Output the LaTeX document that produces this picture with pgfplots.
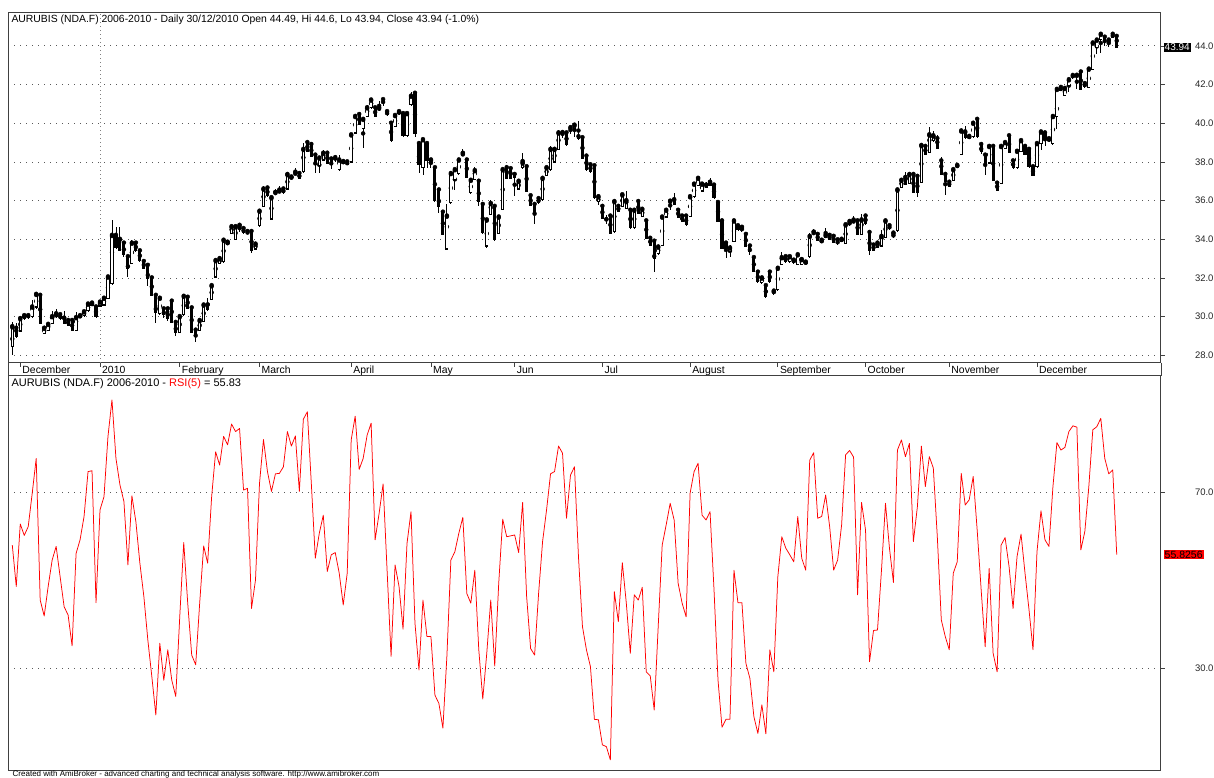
\documentclass[border=0pt]{standalone}
\usepackage{pgfplots}
\pgfplotsset{compat=1.18}
\usepackage{pgfplotstable}
\usepackage{fontspec}
\setmainfont{Liberation Sans}
\newcommand\cf{\fontsize{9.5}{11}\selectfont}
\newcommand\mf{\fontsize{10.4}{12}\selectfont}

\pgfplotstableread{
t b h l w
29.48 28.45 29.7 28.0 1
29.4 28.97 29.65 28.9 0
29.9 29.26 30.0 29.2 1
30.05 29.9 30.15 29.85 1
30.05 29.95 30.15 29.9 0
30.5 30.0 30.85 29.95 1
31.15 30.5 31.2 30.4 1
31.1 29.65 31.15 29.6 0
29.4 29.15 29.45 29.1 1
29.6 29.3 29.7 29.25 1
30.0 29.65 30.3 29.6 1
30.1 30.0 30.4 29.95 1
30.1 29.9 30.15 29.85 0
29.9 29.65 30.3 29.6 0
29.8 29.55 29.9 29.5 0
29.8 29.3 29.85 29.25 0
29.95 29.3 30.25 29.25 1
30.05 30.0 30.1 29.95 1
30.25 30.05 30.3 30.0 1
30.65 30.3 30.7 30.25 1
30.7 30.6 30.75 30.55 1
30.5 30.0 30.55 29.95 0
30.75 30.55 30.85 30.5 1
30.95 30.6 31.0 30.55 1
32.05 30.95 32.1 30.9 1
34.2 31.7 35.0 31.65 1
34.2 33.6 34.65 33.5 0
33.95 33.45 34.65 33.4 0
33.8 33.2 33.85 33.1 0
33.1 32.5 33.15 32.05 0
33.8 32.75 33.95 32.7 1
33.8 33.4 33.85 33.35 0
33.4 32.9 33.45 32.85 0
32.85 32.5 32.9 32.45 0
32.65 32.0 32.7 31.6 0
32.0 31.1 32.05 31.05 0
31.1 30.2 31.15 29.65 0
30.95 30.15 31.0 30.1 1
30.4 30.1 30.45 29.95 0
30.4 29.9 30.45 29.75 0
30.8 29.7 30.85 29.65 0
29.7 29.2 29.75 29.0 0
30.0 29.2 30.05 29.15 1
31.05 30.1 31.1 30.05 1
31.0 30.45 31.05 30.4 0
30.45 29.2 30.5 29.15 0
29.3 29.05 29.35 28.7 0
29.8 29.3 29.85 29.25 1
30.6 29.75 30.65 29.7 1
30.6 30.35 30.95 30.3 0
31.6 30.9 31.65 30.85 1
32.9 32.05 32.95 32.0 1
33.0 32.75 33.05 32.7 1
33.95 32.85 34.0 32.8 1
33.85 33.75 33.9 33.7 1
34.65 34.3 34.75 34.25 1
34.65 34.0 34.7 33.95 1
34.72 34.68 34.75 34.4 1
34.55 34.35 34.6 34.3 0
34.4 34.3 34.45 34.25 0
34.4 33.45 34.45 33.3 0
33.75 33.5 33.8 33.45 1
35.45 34.7 35.5 34.65 1
36.6 35.7 36.75 35.65 1
36.65 36.25 36.7 36.2 0
36.15 35.05 36.2 35.0 1
36.42 36.35 36.6 36.3 1
36.5 36.45 36.75 36.4 1
36.6 36.4 36.65 36.35 0
37.35 36.6 37.4 36.55 1
37.22 37.15 37.3 37.1 1
37.42 37.35 37.7 37.3 1
37.4 37.15 37.45 37.1 0
38.65 37.5 39.0 37.45 1
39.0 38.55 39.05 38.5 0
38.9 38.3 38.95 38.25 0
38.35 37.9 38.4 37.45 0
38.2 37.8 38.25 37.45 1
38.45 38.1 38.6 38.05 1
38.45 37.95 38.5 37.9 0
38.15 37.85 38.2 37.65 0
38.22 38.18 38.35 38.0 1
38.1 37.6 38.35 37.55 1
38.02 37.95 38.1 37.9 1
38.0 37.87 38.05 37.82 0
39.4 38.0 39.45 37.95 1
40.35 39.5 40.4 39.45 1
40.45 39.95 40.5 39.9 0
40.2 39.75 40.25 38.7 1
40.8 40.35 40.95 40.3 1
41.2 40.8 41.3 40.75 1
40.8 40.35 40.85 40.3 0
40.78 40.7 41.15 40.65 1
41.22 41.18 41.3 40.9 0
40.6 40.45 40.65 40.4 0
40.0 39.1 40.05 39.05 0
40.4 39.85 40.45 39.8 1
40.6 40.5 40.65 40.45 1
40.5 39.35 40.55 39.3 0
40.5 39.35 40.55 39.3 1
41.4 40.95 41.6 40.9 1
41.55 39.5 41.6 39.3 0
38.95 37.85 39.1 37.45 0
39.15 37.7 39.2 37.3 1
38.95 38.1 39.0 37.7 0
38.1 37.95 38.2 37.7 1
37.7 36.0 37.75 35.95 0
36.55 35.7 36.6 35.35 0
35.4 34.25 35.45 34.2 0
35.2 33.5 35.85 33.45 1
37.4 35.9 37.45 35.85 1
37.6 37.1 37.65 36.55 1
38.1 37.4 38.15 37.35 1
38.42 38.35 38.65 38.3 1
38.1 37.2 38.15 37.15 0
37.05 36.4 37.1 36.35 1
37.55 37.1 37.75 37.05 1
37.0 35.95 37.05 35.7 0
35.8 34.35 35.85 34.3 0
35.0 33.65 35.05 33.55 1
35.85 35.3 36.05 35.25 1
35.7 34.0 35.75 33.9 0
35.15 34.3 35.2 34.25 1
37.6 35.55 37.65 35.5 1
37.7 37.15 37.85 37.1 0
37.65 37.15 37.7 37.1 0
37.35 37.2 37.4 36.25 0
37.0 36.6 37.05 36.55 1
37.95 37.7 38.45 37.65 1
37.75 36.5 37.8 36.45 0
36.25 35.75 36.3 35.7 0
35.8 35.3 35.85 34.8 0
36.1 35.9 36.15 35.85 0
37.15 36.05 37.2 36.0 1
37.7 37.3 37.75 37.25 1
38.65 37.6 38.8 37.55 1
38.65 38.0 38.7 37.95 1
39.5 38.65 39.65 38.6 1
39.52 39.48 39.65 39.25 1
39.5 38.9 39.55 38.85 0
39.77 39.73 39.85 39.45 1
39.9 39.75 40.0 39.3 1
39.3 39.2 40.1 39.15 0
39.25 38.2 39.3 38.15 0
38.3 37.6 38.35 37.55 0
37.85 37.5 37.9 37.45 0
37.8 36.15 37.85 36.1 0
36.2 35.95 36.3 35.8 1
35.7 35.1 35.75 35.05 0
35.02 34.98 35.25 34.8 0
35.2 34.3 35.25 34.25 0
35.95 34.4 36.0 34.35 1
35.7 35.45 35.75 35.4 0
36.3 35.7 36.35 35.65 1
35.95 35.6 36.5 35.55 1
35.5 34.6 35.55 34.55 0
35.5 34.6 35.55 34.55 1
35.95 35.35 36.0 35.3 0
35.55 35.2 35.6 35.15 1
34.95 34.05 35.0 34.0 0
34.05 33.7 34.1 33.65 0
33.9 33.0 33.95 32.3 0
33.6 33.25 33.65 33.2 1
35.15 33.7 35.2 33.65 1
35.5 35.15 35.55 35.1 1
35.97 35.93 36.0 35.5 1
36.0 35.8 36.4 35.75 0
35.5 35.15 35.55 35.1 0
35.2 34.95 35.25 34.9 0
35.2 34.75 35.25 34.7 0
36.2 35.2 36.25 35.15 1
36.85 36.2 36.9 36.15 1
37.15 36.8 37.2 36.75 1
36.85 36.5 36.9 36.45 1
36.8 36.7 36.95 36.65 0
36.95 36.8 37.15 36.75 0
36.8 36.15 36.85 36.1 0
35.9 34.95 35.95 34.9 0
34.95 33.55 35.0 33.5 0
33.8 33.55 33.85 33.05 0
33.55 33.35 33.7 33.1 1
34.95 33.9 35.0 33.85 1
34.7 34.5 34.75 34.45 0
34.62 34.58 34.65 34.4 1
34.25 33.65 34.3 33.6 0
33.65 33.35 33.7 33.2 0
33.05 32.35 33.1 32.3 0
32.3 31.8 32.35 31.75 0
32.0 31.75 32.05 31.7 1
31.6 31.05 31.65 30.95 0
32.3 31.8 32.35 31.75 0
31.32 31.28 31.45 31.1 1
32.5 31.4 32.55 31.35 1
33.05 32.7 33.35 32.65 1
33.1 32.85 33.15 32.8 0
33.1 32.85 33.15 32.8 1
32.92 32.88 33.05 32.7 1
33.2 32.7 33.25 32.65 1
32.95 32.7 33.0 32.65 1
32.82 32.78 32.9 32.7 1
34.15 33.1 34.35 33.05 1
34.35 34.3 34.55 34.25 1
34.25 33.95 34.3 33.9 0
33.95 33.85 34.0 33.8 1
34.2 34.1 34.6 34.05 1
34.2 34.0 34.25 33.95 0
34.15 33.85 34.2 33.8 0
33.97 33.9 34.0 33.7 0
34.0 33.9 34.1 33.85 1
34.75 33.8 34.8 33.75 1
34.92 34.75 34.95 34.7 1
34.95 34.88 35.2 34.85 1
34.95 34.25 35.0 34.2 0
35.0 34.25 35.3 34.2 1
35.2 34.8 35.25 34.75 0
34.35 33.45 34.4 33.2 0
33.7 33.45 33.75 33.4 0
33.8 33.6 33.85 33.55 1
34.15 33.65 34.5 33.6 1
34.95 34.1 35.0 34.05 1
34.7 34.55 34.75 34.5 0
34.32 34.28 34.35 34.05 1
36.55 34.45 36.6 34.4 1
37.05 36.7 37.1 36.65 1
37.2 36.85 37.5 36.8 0
37.35 36.9 37.4 36.85 1
37.35 36.45 37.4 36.4 0
37.25 36.45 37.3 36.2 0
38.85 36.95 38.9 36.9 1
38.8 38.4 38.85 38.35 0
39.4 38.5 39.8 38.45 1
39.35 39.1 39.6 39.05 1
39.2 38.7 39.4 38.65 0
38.05 37.35 38.25 37.3 0
37.35 37.0 37.4 36.3 0
36.95 36.75 37.0 36.7 0
37.6 37.05 37.65 37.0 1
37.82 37.75 37.9 37.7 1
39.6 38.4 39.65 38.35 1
39.55 39.25 39.85 39.2 0
39.32 39.28 39.4 39.2 1
40.0 39.3 40.05 39.25 1
40.2 39.3 40.25 39.25 0
38.9 38.55 38.95 38.4 0
38.35 37.85 38.4 37.3 0
38.8 37.95 38.85 37.9 1
38.8 37.05 38.85 37.0 0
36.9 36.55 36.95 36.5 0
38.8 36.9 38.85 36.85 1
39.0 38.7 39.05 38.65 1
39.35 38.5 39.4 38.45 0
38.05 37.7 38.1 37.65 0
38.55 37.7 38.6 37.65 1
39.1 38.55 39.15 38.5 1
38.8 38.4 38.85 38.35 0
38.65 37.75 38.7 37.7 0
37.75 37.3 37.8 37.25 0
38.95 37.75 39.0 37.7 1
39.55 38.95 39.65 38.6 1
39.5 39.15 39.55 38.8 0
39.2 39.1 39.25 39.05 1
40.35 38.95 40.45 38.9 1
41.75 40.35 41.8 39.7 1
41.85 41.7 41.9 41.65 0
41.8 41.45 41.85 41.4 1
42.25 41.95 42.3 41.6 1
42.47 42.43 42.6 42.3 1
42.48 42.42 42.55 41.75 1
42.65 41.75 42.7 41.7 0
42.05 41.9 42.1 41.85 0
42.8 41.85 42.85 41.8 1
44.15 42.8 44.2 42.75 1
44.3 43.9 44.35 43.6 1
44.6 44.35 44.65 43.65 1
44.45 44.35 44.5 44.0 0
44.3 44.15 44.35 43.95 1
44.6 44.45 44.65 44.4 0
44.49 43.94 44.6 43.94 0
}\candles

\pgfplotstableread{
r
58.0
48.6
62.8
60.2
62.2
69.8
77.7
45.5
41.9
48.6
54.6
57.7
50.8
44.0
42.1
35.1
56.1
59.2
64.5
74.7
74.9
44.9
66.0
69.0
82.7
91.0
77.7
71.7
67.9
53.5
69.2
63.3
53.9
46.3
36.4
28.1
19.4
35.7
27.3
34.2
27.3
23.6
41.7
58.6
44.8
33.0
30.8
44.8
57.8
53.9
69.0
79.2
76.2
82.7
80.8
85.5
83.8
84.5
70.5
70.9
43.6
50.1
72.0
82.0
74.7
70.2
74.2
74.3
75.8
83.8
80.5
82.8
70.2
86.6
88.3
72.0
55.0
60.7
64.8
52.0
55.8
56.3
51.6
44.4
51.6
81.9
87.3
75.2
77.7
83.0
85.7
59.2
65.2
71.9
52.3
32.7
53.5
48.6
38.9
58.4
65.6
40.2
29.6
45.5
37.2
37.2
23.9
22.0
16.4
32.7
54.6
56.5
60.7
64.3
47.0
44.8
52.3
34.2
23.0
33.4
45.5
30.5
49.3
63.9
59.9
60.1
60.3
56.3
67.7
46.3
34.5
33.0
47.0
58.8
66.0
74.2
74.7
80.5
78.9
64.1
73.9
75.8
55.4
39.5
34.2
30.4
18.4
18.3
12.6
12.2
9.2
47.4
40.6
54.0
44.8
33.4
46.7
45.5
48.4
29.2
28.3
20.5
39.5
58.0
62.6
67.5
63.7
49.3
44.8
41.7
69.8
74.7
76.6
64.8
63.7
65.6
47.8
27.3
16.6
18.4
18.4
52.3
44.9
44.9
31.1
27.7
19.0
15.2
21.7
15.1
34.2
29.2
50.8
59.9
57.3
55.8
54.2
64.5
55.0
52.3
77.3
79.0
64.1
64.5
69.4
62.2
52.3
54.6
62.6
78.5
79.5
78.0
46.7
67.7
61.4
31.5
38.6
38.7
52.3
67.5
57.3
49.5
79.6
81.9
78.1
81.1
58.8
66.7
80.5
71.3
78.1
75.5
59.9
41.0
37.2
34.2
51.6
54.2
74.3
67.1
68.3
73.6
61.4
47.8
34.9
52.7
33.4
29.2
58.0
59.7
53.1
43.6
55.4
60.5
51.6
43.3
34.2
56.5
65.8
59.2
57.7
71.3
81.3
79.6
80.2
83.8
85.1
84.8
56.9
61.1
71.3
84.2
84.9
86.8
77.7
74.2
75.1
55.83
}\rsi

\begin{document}
\begin{tikzpicture}[x=1pt,y=1pt]
\useasboundingbox (0,0) rectangle (1214,778);
\pgfplotsset{chart/.style={
  scale only axis, width=1152.7pt, xmin=-1, xmax=288.1,
  axis line style={black!75, line width=1pt},
  tick style={black!75, line width=0.8pt},
  tick align=outside, major tick length=4pt,
  ytick pos=right, yticklabel pos=right,
  ymajorgrids,
  major grid style={black!65, line width=0.9pt, dash pattern=on 0.9pt off 5.1pt},
  /pgf/number format/assume math mode=true,
  yticklabel style={font=\cf, text=black!85, anchor=west, xshift=26.5pt,
    /pgf/number format/fixed, /pgf/number format/fixed zerofill,
    /pgf/number format/precision=1},
  clip mode=individual,
}}

% ---------------- price panel ----------------
\begin{axis}[chart, at={(8.3pt,415.3pt)}, anchor=south west, height=350.4pt,
  ymin=27.62, ymax=45.74, ytick={28,30,...,44},
  xtick pos=left,
  xtick={2,22,42,62,85,105,126,148,170,192,214,235,257},
  xticklabels={December,2010,February,March,April,May,Jun,Jul,August,September,October,November,December},
  xticklabel style={font=\mf, anchor=north west, inner sep=1pt, xshift=1pt, yshift=1.5pt}]
\draw[black!50, line width=0.8pt, dash pattern=on 0.8pt off 3.2pt] (axis cs:22,27.62) -- (axis cs:22,45.74);
% wicks
\addplot[only marks, mark=none, error bars/.cd, y dir=both, y explicit, error mark=none,
  error bar style={black, line width=0.9pt}]
  table[x expr=\coordindex, y expr={(\thisrow{h}+\thisrow{l})/2}, y error expr={(\thisrow{h}-\thisrow{l})/2}] {\candles};
% bodies (outline / black fill)
\addplot[only marks, mark=none, error bars/.cd, y dir=minus, y explicit, error mark=none,
  error bar style={black, line width=3.1pt}]
  table[x expr=\coordindex, y expr={\thisrow{t}+0.03}, y error expr={\thisrow{t}-\thisrow{b}+0.06}] {\candles};
% white interiors of rising candles
\addplot[only marks, mark=none, error bars/.cd, y dir=minus, y explicit, error mark=none,
  error bar style={white, line width=1.5pt}]
  table[x expr=\coordindex, y expr={\thisrow{w}*(\thisrow{t}-0.03)}, y error expr={\thisrow{w}*max(\thisrow{t}-\thisrow{b}-0.06,0)}] {\candles};
\node[fill=black, text=white, font=\fontsize{10}{12}\selectfont, inner sep=1pt, anchor=west, xshift=2.5pt] at (axis cs:288.1,43.94) {43.94};
\end{axis}

% ---------------- RSI panel ----------------
\begin{axis}[chart, at={(8.3pt,7pt)}, anchor=south west, height=395pt,
  ymin=6.66, ymax=96.43, ytick={30,70}, xtick=\empty]
\addplot[red, line width=0.75pt, line join=round] table[x expr=\coordindex, y=r] {\rsi};
\node[fill=red, text=black, font=\fontsize{10.5}{12}\selectfont, inner sep=1pt, anchor=west, xshift=2.5pt] at (axis cs:288.1,55.83) {55.8256};
\end{axis}

\draw[black!75, line width=1pt] (8.3,415.3) -- (8.3,402) (1161,415.3) -- (1161,402);

\node[anchor=west, inner sep=0, font=\mf] at (11.3,758.5)
  {AURUBIS (NDA.F) 2006-2010 - Daily 30/12/2010 Open 44.49, Hi 44.6, Lo 43.94, Close 43.94 (-1.0\%)};
\node[anchor=west, inner sep=0, font=\fontsize{11}{13}\selectfont] at (11.3,394)
  {AURUBIS (NDA.F) 2006-2010 - \textcolor{red}{RSI(5)} = 55.83};
\node[anchor=base west, inner sep=0, font=\fontsize{8}{9}\selectfont] at (12.5,1.2)
  {Created with AmiBroker - advanced charting and technical analysis software. http://www.amibroker.com};
\end{tikzpicture}
\end{document}
